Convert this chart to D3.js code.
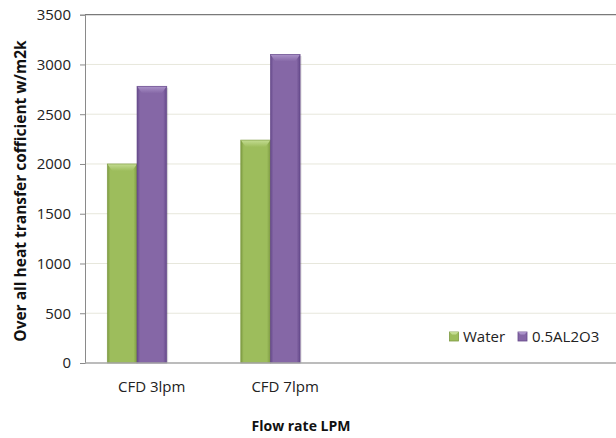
<!DOCTYPE html>
<html>
<head>
<meta charset="utf-8">
<script src="https://cdn.jsdelivr.net/npm/d3@7"></script>
<style>
  html, body { margin: 0; padding: 0; background: #fff; }
  svg { display: block; font-family: "Open Sans", sans-serif; }
</style>
</head>
<body>
<svg id="chart" width="616" height="438"></svg>
<script>
// ---- data ----
const categories = ["CFD 3lpm", "CFD 7lpm"];
const emptySlots = ["", " "]; // unused category slots of the original chart
const seriesNames = ["Water", "0.5AL2O3"];
const water = [2000, 2240];
const al2o3 = [2780, 3100];
const yTicks = [0, 500, 1000, 1500, 2000, 2500, 3000, 3500];
const yTitle = "Over all heat transfer cofficient w/m2k";
const xTitle = "Flow rate LPM";

const seriesValues = [water, al2o3];
const colors = [
  { base: "#9dbd5c", dark: "#7d9a42", light: "#c4dc92" },
  { base: "#8567a6", dark: "#65498a", light: "#ab93c9" }
];

const W = 616, H = 438;
const margin = { left: 85, top: 14.7, bottom: 75 };
const plotBottom = 363;
const svg = d3.select("#chart");
const defs = svg.append("defs");

const xDomain = categories.concat(emptySlots);
const x = d3.scaleBand().domain(xDomain).range([margin.left, margin.left + 533.6]).padding(0);
const bw = x.bandwidth();
const groupW = bw * 0.445;
const shift = -bw * 0.11;
const x1 = d3.scaleBand().domain(seriesNames).range([0, groupW]).padding(0);
const y = d3.scaleLinear().domain([0, 3500]).range([plotBottom, margin.top]);

// gradients
colors.forEach((c, i) => {
  const g = defs.append("linearGradient").attr("id", "grad" + i)
    .attr("x1", "0%").attr("x2", "100%").attr("y1", "0%").attr("y2", "0%");
  g.append("stop").attr("offset", "0%").attr("stop-color", c.dark);
  g.append("stop").attr("offset", "10%").attr("stop-color", c.base);
  g.append("stop").attr("offset", "88%").attr("stop-color", c.base);
  g.append("stop").attr("offset", "100%").attr("stop-color", c.dark);
  const b = defs.append("linearGradient").attr("id", "bev" + i)
    .attr("x1", "0%").attr("x2", "0%").attr("y1", "0%").attr("y2", "100%");
  b.append("stop").attr("offset", "0%").attr("stop-color", c.light);
  b.append("stop").attr("offset", "100%").attr("stop-color", c.base);
});

// gridlines
svg.append("g").selectAll("line")
  .data(yTicks.filter(t => t > 0 && t < 3500))
  .join("line")
  .attr("x1", margin.left).attr("x2", W)
  .attr("y1", d => y(d)).attr("y2", d => y(d))
  .attr("stroke", "#e7e7dc").attr("stroke-width", 1);

// top border
svg.append("line")
  .attr("x1", margin.left).attr("x2", W)
  .attr("y1", y(3500)).attr("y2", y(3500))
  .attr("stroke", "#7a7a7a").attr("stroke-width", 1.2);

// y axis
const yAxis = d3.axisLeft(y).tickValues(yTicks).tickSize(5).tickPadding(9).tickFormat(d3.format("d"));
const ya = svg.append("g").attr("transform", `translate(${margin.left},0)`).call(yAxis);
ya.select(".domain").attr("stroke", "#8a8a8a");
ya.selectAll(".tick line").attr("stroke", "#8a8a8a");
ya.selectAll(".tick text").attr("font-size", 15).attr("fill", "#222")
  .attr("font-family", "'Open Sans', sans-serif");

// bars
const groups = svg.append("g").selectAll("g")
  .data(categories)
  .join("g")
  .attr("transform", c => `translate(${x(c) + (bw - groupW) / 2 + shift},0)`);

groups.each(function (c, ci) {
  const g = d3.select(this);
  seriesNames.forEach((s, si) => {
    const v = seriesValues[si][ci];
    const bx = x1(s), w = x1.bandwidth();
    const top = y(v), h = y(0) - y(v);
    const col = colors[si];
    // shadow
    g.append("rect").attr("x", bx + 1.5).attr("y", top + 1.5).attr("width", w).attr("height", h - 1.5)
      .attr("fill", "#000").attr("opacity", 0.12);
    g.append("rect").attr("x", bx).attr("y", top).attr("width", w).attr("height", h)
      .attr("fill", `url(#grad${si})`);
    // top bevel
    const bev = 7;
    g.append("path")
      .attr("d", `M${bx},${top} L${bx + w},${top} L${bx + w - 5},${top + bev} L${bx + 5},${top + bev} Z`)
      .attr("fill", `url(#bev${si})`);
    g.append("rect").attr("x", bx).attr("y", top).attr("width", w).attr("height", h)
      .attr("fill", "none").attr("stroke", col.dark).attr("stroke-width", 0.8).attr("opacity", 0.8);
  });
});

// x axis line
svg.append("line")
  .attr("x1", margin.left).attr("x2", W)
  .attr("y1", plotBottom).attr("y2", plotBottom)
  .attr("stroke", "#a6a6a6").attr("stroke-width", 1.5);

// x labels
svg.append("g").selectAll("text")
  .data(categories)
  .join("text")
  .attr("x", c => x(c) + bw / 2)
  .attr("y", 392)
  .attr("text-anchor", "middle")
  .attr("font-size", 15).attr("fill", "#222")
  .text(c => c);

// axis titles
svg.append("text")
  .attr("x", 301).attr("y", 431)
  .attr("text-anchor", "middle")
  .attr("font-size", 14).attr("font-weight", "bold").attr("fill", "#111")
  .text(xTitle);

svg.append("text")
  .attr("transform", "translate(26,191) rotate(-90)")
  .attr("text-anchor", "middle")
  .attr("font-size", 15.5).attr("font-weight", "bold").attr("fill", "#111")
  .text(yTitle);

// legend
const legendPos = [{ sx: 449.5, tx: 463 }, { sx: 518, tx: 532 }];
const lg = svg.append("g").selectAll("g").data(seriesNames).join("g");
lg.append("rect")
  .attr("x", (d, i) => legendPos[i].sx).attr("y", 332)
  .attr("width", 9).attr("height", 9)
  .attr("fill", (d, i) => colors[i].base)
  .attr("stroke", (d, i) => colors[i].dark).attr("stroke-width", 0.8);
lg.append("path")
  .attr("d", (d, i) => { const sx = legendPos[i].sx; return `M${sx},332 L${sx + 9},332 L${sx + 6.5},334.5 L${sx + 2.5},334.5 Z`; })
  .attr("fill", (d, i) => colors[i].light);
lg.append("text")
  .attr("x", (d, i) => legendPos[i].tx).attr("y", 342)
  .attr("font-size", 15).attr("fill", "#222")
  .text(d => d);
</script>
</body>
</html>
